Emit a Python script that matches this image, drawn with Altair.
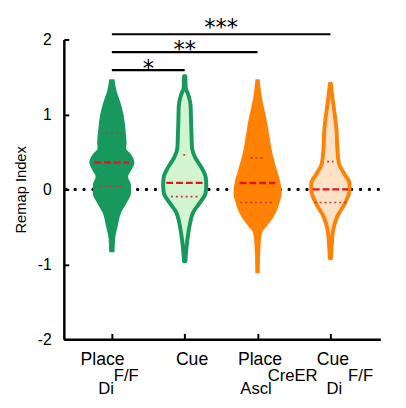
import altair as alt
import pandas as pd

# ---- categories / tick labels ----
positions = [1, 2, 3, 4]
tick_labels = ["Place", "Cue", "Place", "Cue"]
groups = ["Di Place", "Di Cue", "Ascl Place", "Ascl Cue"]
fill_colors = ["#17985c", "#d2f5cf", "#ff8205", "#fde2c6"]
edge_colors = ["#17985c", "#17985c", "#ff8205", "#ff8205"]

# ---- violin profiles (value, half-width estimate in px) ----
v1_val = [1.47, 1.30, 1.17, 0.99, 0.78, 0.62, 0.55, 0.47, 0.36, 0.25, 0.17, 0.06, -0.05, -0.18, -0.31, -0.49, -0.66, -0.84]
v1_w = [2.7, 5.0, 8.5, 12.0, 14.0, 15.0, 14.5, 19.5, 23.0, 19.5, 16.5, 19.5, 19.5, 15.0, 9.5, 6.0, 3.3, 2.7]

v2_val = [1.51, 1.36, 1.25, 1.12, 0.90, 0.70, 0.55, 0.43, 0.30, 0.17, 0.06, -0.05, -0.18, -0.31, -0.45, -0.60, -0.75, -0.96]
v2_w = [0.7, 1.0, 4.0, 6.0, 6.5, 7.0, 7.5, 10.5, 16.7, 21.3, 22.0, 21.3, 15.3, 8.5, 5.5, 3.5, 2.0, 0.7]

v3_val = [1.47, 1.30, 1.12, 0.91, 0.69, 0.47, 0.25, 0.08, -0.05, -0.18, -0.36, -0.49, -0.575, -0.75, -1.12]
v3_w = [2.2, 3.5, 6.0, 9.5, 12.3, 15.3, 20.0, 23.5, 24.5, 22.3, 16.7, 9.7, 4.7, 3.0, 2.2]

v4_val = [1.41, 1.21, 0.99, 0.78, 0.56, 0.34, 0.21, 0.08, -0.01, -0.18, -0.36, -0.53, -0.75, -0.92]
v4_w = [0.5, 2.2, 4.5, 6.3, 7.0, 8.8, 14.0, 19.5, 19.5, 15.0, 7.0, 3.0, 1.3, 0.5]

# ---- median / quartile lines (value, half-width px) ----
med_val = [0.36, 0.087, 0.085, 0.0]
med_w = [18.0, 18.8, 18.3, 18.0]
q3_val = [0.75, 0.46, 0.42, 0.37]
q3_w = [11.0, 1.5, 7.0, 3.3]
q1_val = [0.043, -0.097, -0.175, -0.175]
q1_w = [12.0, 14.0, 17.5, 16.0]

# ---- significance ----
sig_from = [1, 1, 1]
sig_to = [2, 3, 4]
sig_val = [1.59, 1.83, 2.07]
sig_star_val = [1.675, 1.935, 2.224]
sig_text = ["*", "**", "***"]

# ---- group labels (text pieces) ----
grp_text = ["Di", "F/F", "Ascl", "CreER", "Di", "F/F"]
grp_x = [0.812, 1.027, 2.763, 3.139, 3.946, 4.243]
grp_y = [-2.73, -2.55, -2.73, -2.55, -2.73, -2.55]

K = 1 / 74.33  # px -> category units

def violin_frame(idx):
    rows = []
    for i in idx:
        vals = [v1_val, v2_val, v3_val, v4_val][i]
        ws = [v1_w, v2_w, v3_w, v4_w][i]
        for v, w in zip(vals, ws):
            rows.append({"group": groups[i], "pos": positions[i], "val": v, "w": w})
    return pd.DataFrame(rows)

srows = []
for kind, vals, ws in [("median", med_val, med_w), ("quartile", q3_val, q3_w), ("quartile", q1_val, q1_w)]:
    for p, v, w in zip(positions, vals, ws):
        srows.append({"kind": kind, "pos": p, "val": v, "w": w})
stats = pd.DataFrame(srows)

sig = pd.DataFrame({"x1": sig_from, "x2": sig_to, "val": sig_val, "star": sig_star_val, "text": sig_text})
grp = pd.DataFrame({"text": grp_text, "x": grp_x, "y": grp_y})
zero = pd.DataFrame({"v": [0]})

FONT = "Liberation Sans"
xscale = alt.Scale(domain=[0.341, 4.686], nice=False, zero=False)
yscale = alt.Scale(domain=[-2, 2], nice=False, zero=False)

xaxis = alt.Axis(
    values=positions,
    labelExpr=f"{tick_labels}[datum.value - 1]",
    labelOffset={"condition": [{"test": "datum.value == 1", "value": -10},
                               {"test": "datum.value == 2", "value": 7}],
                 "value": 2},
    title=None, grid=False,
    domainColor="black", domainWidth=2.5,
    tickColor="black", tickWidth=2, tickSize=alt.ExprRef(expr="-6"),
    labelFontSize=18, labelFont=FONT, labelColor="black", labelPadding=18,
)
yaxis = alt.Axis(
    values=[-2, -1, 0, 1, 2],
    labelExpr="'' + datum.value",
    title="Remap Index", titleFont=FONT, titleFontSize=15, titleFontWeight="normal",
    titleColor="black", titlePadding=9,
    grid=False,
    domainColor="black", domainWidth=2.5,
    tickColor="black", tickWidth=2, tickSize=alt.ExprRef(expr="-5"),
    labelFontSize=16, labelFont=FONT, labelColor="black", labelPadding=18,
)

zero_line = alt.Chart(zero).mark_rule(
    color="black", strokeWidth=3.3, strokeDash=[0.1, 9], strokeCap="round", strokeDashOffset=-2
).encode(y=alt.Y("v:Q", scale=yscale, axis=yaxis))

def violin_layer(idx, stroke_w):
    return alt.Chart(violin_frame(idx)).transform_calculate(
        left=f"datum.pos - datum.w * {K}", right=f"datum.pos + datum.w * {K}"
    ).mark_area(orient="horizontal", interpolate="monotone", strokeJoin="round",
                strokeWidth=stroke_w).encode(
        y=alt.Y("val:Q", scale=yscale, axis=yaxis),
        x=alt.X("left:Q", scale=xscale, axis=xaxis),
        x2="right:Q",
        fill=alt.Fill("group:N", scale=alt.Scale(domain=groups, range=fill_colors), legend=None),
        stroke=alt.Stroke("group:N", scale=alt.Scale(domain=groups, range=edge_colors), legend=None),
        detail="group:N",
    )

violin_filled = violin_layer([0, 2], 0)
violin_outlined = violin_layer([1, 3], 4)

stat_lines = alt.Chart(stats).transform_calculate(
    left=f"datum.pos - datum.w * {K}", right=f"datum.pos + datum.w * {K}"
).mark_rule().encode(
    y="val:Q",
    x="left:Q",
    x2="right:Q",
    color=alt.Color("kind:N", scale=alt.Scale(domain=["median", "quartile"], range=["#e8141c", "#c8383a"]), legend=None),
    strokeDash=alt.StrokeDash("kind:N", scale=alt.Scale(domain=["median", "quartile"], range=[[7, 3], [2, 3]]), legend=None),
    strokeWidth=alt.StrokeWidth("kind:N", scale=alt.Scale(domain=["median", "quartile"], range=[2.4, 1.6]), legend=None),
)

sig_lines = alt.Chart(sig).mark_rule(color="black", strokeWidth=2.2).encode(
    x="x1:Q", x2="x2:Q", y="val:Q"
)
sig_stars = alt.Chart(sig).transform_calculate(mid="(datum.x1 + datum.x2) / 2").mark_text(
    font="DejaVu Sans", fontSize=23, color="black", baseline="alphabetic", dy=12.5
).encode(x="mid:Q", y="star:Q", text="text:N")

grp_labels = alt.Chart(grp).mark_text(
    font=FONT, fontSize=17, color="black", align="left", baseline="alphabetic"
).encode(x="x:Q", y="y:Q", text="text:N")

chart = alt.layer(zero_line, violin_filled, violin_outlined, stat_lines, sig_lines, sig_stars, grp_labels).properties(
    width=323, height=306,
    autosize=alt.AutoSizeParams(type="none"),
    padding={"left": 57, "top": 28, "right": 18, "bottom": 66},
).configure_view(stroke=None)

chart.save("out.html", embed_options={"renderer": "svg", "actions": False})
